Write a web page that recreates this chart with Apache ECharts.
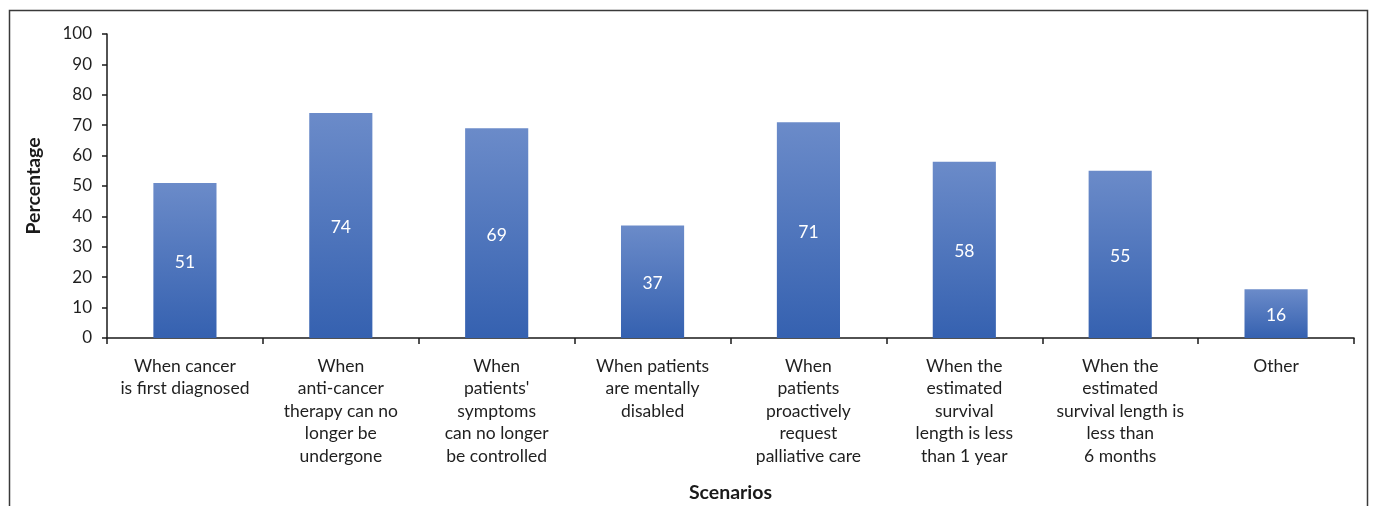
<!DOCTYPE html>
<html>
<head>
<meta charset="utf-8">
<script src="https://cdn.jsdelivr.net/npm/echarts@6/dist/echarts.min.js"></script>
<style>
  html, body { margin: 0; padding: 0; background: #fff; }
  #chart { width: 1375px; height: 506px; }
</style>
</head>
<body>
<div id="chart"></div>
<script>
// Scenarios (x categories) and share of respondents choosing each one
const scenarios = [
  'When cancer\nis first diagnosed',
  'When\nanti-cancer\ntherapy can no\nlonger be\nundergone',
  'When\npatients\'\nsymptoms\ncan no longer\nbe controlled',
  'When patients\nare mentally\ndisabled',
  'When\npatients\nproactively\nrequest\npalliative care',
  'When the\nestimated\nsurvival\nlength is less\nthan 1 year',
  'When the\nestimated\nsurvival length is\nless than\n6 months',
  'Other'
];
const percentages = [51, 74, 69, 37, 71, 58, 55, 16];
const yTicks = { min: 0, max: 100, interval: 10 };

const FONT = 'Lato, "Liberation Sans", sans-serif';
const chart = echarts.init(document.getElementById('chart'), null, { renderer: 'canvas' });

chart.setOption({
  animation: false,
  backgroundColor: '#ffffff',
  graphic: [{
    type: 'rect',
    shape: { x: 9.5, y: 10.5, width: 1358, height: 540 },
    style: { fill: 'none', stroke: '#3a3a3a', lineWidth: 1.5 },
    silent: true
  }],
  grid: { left: 107, right: 21, top: 34, bottom: 168, containLabel: false, outerBoundsMode: 'none' },
  xAxis: {
    type: 'category',
    data: scenarios,
    name: 'Scenarios',
    nameLocation: 'middle',
    nameGap: 145,
    nameTextStyle: { fontFamily: FONT, fontSize: 19.5, fontWeight: 'bold', color: '#1a1a1a' },
    axisLine: { lineStyle: { color: '#1a1a1a', width: 1.5 } },
    axisTick: { show: true, length: 6, alignWithLabel: false, lineStyle: { color: '#1a1a1a', width: 1.5 } },
    axisLabel: {
      interval: 0,
      margin: 17,
      fontFamily: FONT,
      fontSize: 17.5,
      lineHeight: 22.5,
      color: '#1f1f1f',
      align: 'center'
    }
  },
  yAxis: {
    type: 'value',
    min: yTicks.min,
    max: yTicks.max,
    interval: yTicks.interval,
    name: 'Percentage',
    nameLocation: 'middle',
    nameRotate: 90,
    nameGap: 63,
    nameTextStyle: { fontFamily: FONT, fontSize: 19.5, fontWeight: 'bold', color: '#1a1a1a' },
    axisLine: { show: true, lineStyle: { color: '#1a1a1a', width: 1.5 } },
    axisTick: { show: true, length: 5, lineStyle: { color: '#1a1a1a', width: 1.5 } },
    splitLine: { show: false },
    axisLabel: { margin: 15, fontFamily: FONT, fontSize: 17, color: '#1f1f1f' }
  },
  series: [{
    type: 'bar',
    data: percentages,
    barWidth: '40.5%',
    itemStyle: {
      color: new echarts.graphic.LinearGradient(0, 0, 0, 1, [
        { offset: 0, color: '#6b8bc9' },
        { offset: 1, color: '#3561b0' }
      ])
    },
    label: {
      show: true,
      position: 'inside',
      offset: [0, 2],
      color: '#ffffff',
      fontFamily: FONT,
      fontSize: 17.5
    }
  }]
});
</script>
</body>
</html>
